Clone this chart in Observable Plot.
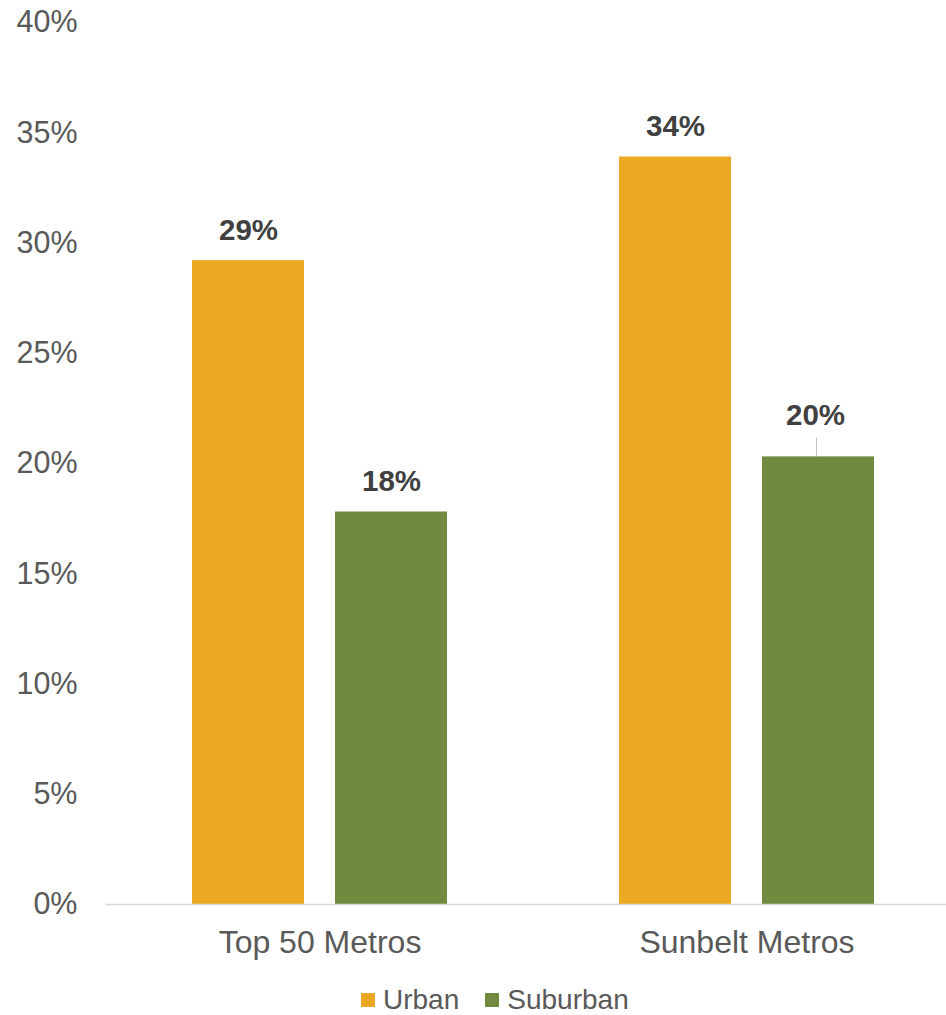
<!DOCTYPE html>
<html>
<head>
<meta charset="utf-8">
<script src="https://cdn.jsdelivr.net/npm/d3@7"></script>
<script src="https://cdn.jsdelivr.net/npm/@observablehq/plot@0.6"></script>
<style>
  html, body { margin: 0; padding: 0; background: #fff; overflow: hidden; width: 946px; height: 1015px; }
  #chart { position: relative; width: 946px; height: 1015px; overflow: hidden; }
  #chart svg { max-width: none !important; }
  .legend { display: flex; align-items: center; gap: 26px; font-family: "Liberation Sans", Arial, sans-serif; font-size: 28px; color: #595959; position: absolute; left: 361px; top: 984px; }
  .legend .item { display: flex; align-items: center; gap: 8px; }
  .legend .sw { width: 14px; height: 14px; display: inline-block; }
</style>
</head>
<body>
<div id="chart"></div>
<script>
const groups = ["Top 50 Metros", "Sunbelt Metros"];
const series = ["Urban", "Suburban"];
const urbanValues = [29.2, 33.9];
const suburbanValues = [17.8, 20.3];
const colors = ["#EAA823", "#708A3F"];
const yTicks = [0, 5, 10, 15, 20, 25, 30, 35, 40];

const data = [];
groups.forEach((g, i) => {
  data.push({group: g, series: "Urban", value: urbanValues[i]});
  data.push({group: g, series: "Suburban", value: suburbanValues[i]});
});
// the Sunbelt suburban label is lifted higher in the original, with a short leader line
const isLifted = d => d.group === "Sunbelt Metros" && d.series === "Suburban";
const leaderLength = 0.85; // in percentage points

const chart = Plot.plot({
  width: 960,
  height: 960,
  marginLeft: 106,
  marginRight: 0,
  marginTop: 22,
  marginBottom: 56,
  style: {fontFamily: "Liberation Sans, Arial, sans-serif", background: "#fff", overflow: "visible", maxWidth: "none"},
  fx: {domain: groups, padding: 0, label: null},
  x: {domain: series, paddingInner: 0.2168, paddingOuter: 0.601, axis: null},
  y: {type: "linear", domain: [0, 40], label: null},
  color: {domain: series, range: colors},
  marks: [
    Plot.axisY({ticks: yTicks, tickSize: 0, tickPadding: 29, fontSize: 30.5, fill: "#595959", tickFormat: d => d + "%", label: null}),
    Plot.axisFx({anchor: "bottom", tickSize: 0, tickPadding: 26, fontSize: 32, fill: "#595959", label: null}),
    Plot.barY(data, {fx: "group", x: "series", y: "value", fill: "series"}),
    Plot.ruleY([0], {stroke: "#d9d9d9", strokeWidth: 1.5}),
    Plot.text(data.filter(d => !isLifted(d)), {fx: "group", x: "series", y: "value", text: d => Math.round(d.value) + "%", dy: -30, fontSize: 29.5, fontWeight: "bold", fill: "#404040"}),
    Plot.text(data.filter(isLifted), {fx: "group", x: "series", y: "value", text: d => Math.round(d.value) + "%", dy: -41, dx: -3, fontSize: 29.5, fontWeight: "bold", fill: "#404040"}),
    Plot.ruleX(data.filter(isLifted), {fx: "group", x: "series", y1: "value", y2: d => d.value + leaderLength, dx: -2, stroke: "#bfbfbf", strokeWidth: 1})
  ]
});
document.getElementById("chart").appendChild(chart);

const legend = document.createElement("div");
legend.className = "legend";
series.forEach((s, i) => {
  const item = document.createElement("div");
  item.className = "item";
  const sw = document.createElement("span");
  sw.className = "sw";
  sw.style.background = colors[i];
  const t = document.createElement("span");
  t.textContent = s;
  item.appendChild(sw);
  item.appendChild(t);
  legend.appendChild(item);
});
document.getElementById("chart").appendChild(legend);
</script>
</body>
</html>
